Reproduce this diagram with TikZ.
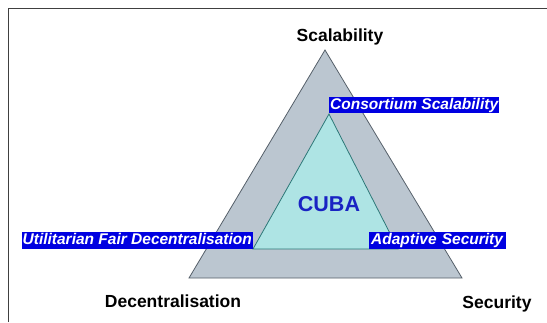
\documentclass[tikz,border=0pt]{standalone}
\usepackage{fontspec}
\setmainfont{Liberation Sans}
\usetikzlibrary{positioning,calc}

\definecolor{outerfill}{RGB}{187,198,208}
\definecolor{outerline}{RGB}{85,95,105}
\definecolor{innerfill}{RGB}{174,228,228}
\definecolor{innerline}{RGB}{45,120,120}
\definecolor{tagblue}{RGB}{0,0,225}
\definecolor{cubablue}{RGB}{25,35,195}

\begin{document}
\begin{tikzpicture}[
  x=1pt, y=-1pt,
  corner/.style={font=\fontsize{17.5}{18}\selectfont\bfseries, inner sep=0pt, anchor=base},
  tag/.style={fill=tagblue, text=white, font=\fontsize{15.5}{16}\selectfont\bfseries\itshape,
              inner xsep=1pt, inner ysep=0.5pt, text height=12pt, text depth=3.5pt},
  core/.style={text=cubablue, font=\fontsize{21.5}{22}\selectfont\bfseries, inner sep=0pt, anchor=base}
]
\useasboundingbox (0,0) rectangle (547,322);

% ---- Frame ----
\draw[line width=1.5pt, black!75] (8.5,322) -- (8.5,8.5) -- (547,8.5);

% ---- Outer triangle ----
\coordinate (top) at (325,50);
\coordinate (left) at (189,278);
\coordinate (right) at (462,278);
\filldraw[fill=outerfill, draw=outerline, line width=0.8pt] (top) -- (left) -- (right) -- cycle;

% ---- Inner triangle ----
\coordinate (itop) at (329,114);
\coordinate (ileft) at (253,249);
\coordinate (iright) at (398,249);
\filldraw[fill=innerfill, draw=innerline, line width=0.8pt] (itop) -- (ileft) -- (iright) -- cycle;

% ---- Corner labels ----
\node[corner] (scal) at (340,41.5) {Scalability};
\node[corner] (dec) at (173,307.5) {Decentralisation};
\node[corner] (sec) at (497,308) {Security};
\node[core] (cuba) at (329,211.5) {CUBA};

% ---- Blue tags ----
\node[tag, anchor=west] (cons) at (329,105) {Consortium Scalability};
\node[tag, anchor=east] (util) at (253,240.5) {Utilitarian Fair Decentralisation};
\node[tag, anchor=west, minimum width=137pt, align=left, text width=133pt] (adap) at (369,240.5) {Adaptive Security};

\end{tikzpicture}
\end{document}
